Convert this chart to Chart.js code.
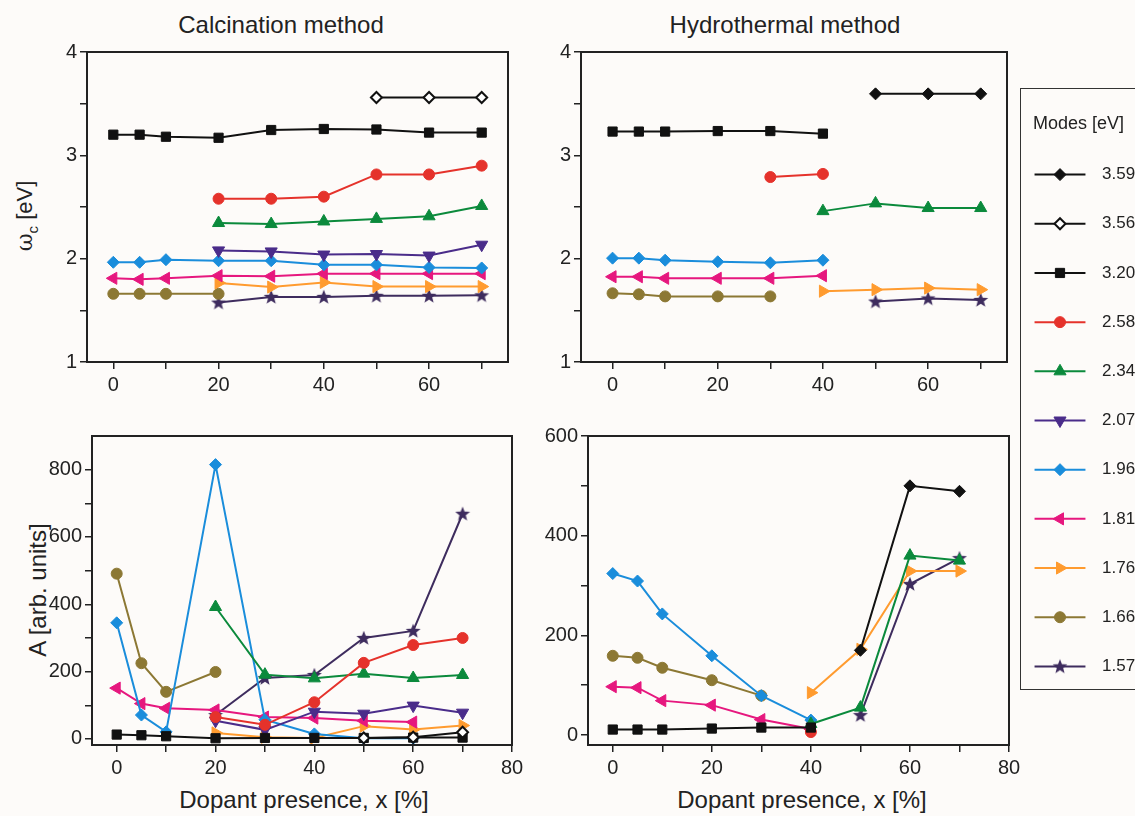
<!DOCTYPE html>
<html lang="en">
<head>
<meta charset="UTF-8">
<title>Modes vs dopant presence</title>
<script src="https://cdn.jsdelivr.net/npm/chart.js@4.4.0/dist/chart.umd.min.js"></script>
<style>
    html, body { margin: 0; padding: 0; }
    body {
        width: 1135px; height: 816px; position: relative; overflow: hidden;
        background: #fdfbf9; color: #222;
        font-family: "Liberation Sans", Arial, sans-serif;
    }
    .panel { position: absolute; }
    .title { position: absolute; font-size: 24px; line-height: 1; white-space: nowrap; transform: translateX(-50%); }
    .ylab { position: absolute; white-space: nowrap; line-height: 1; transform: translate(-50%, -50%) rotate(-90deg); }
    .legend-box {
        position: absolute; left: 1020px; top: 88px; width: 140px; height: 602px;
        border: 1.5px solid #333; box-sizing: border-box;
    }
    .legend-title { position: absolute; left: 1033px; top: 114px; font-size: 18px; line-height: 1; white-space: nowrap; }
</style>
</head>
<body>
    <div class="title" style="left:281px; top:13px;">Calcination method</div>
    <div class="title" style="left:785px; top:13px;">Hydrothermal method</div>

    <div class="ylab" style="left:27px; top:216px; font-size:22px;"><span style="font-family:'DejaVu Serif', serif;">ω</span><sub style="font-size:15px;">c</sub> [eV]</div>
    <div class="ylab" style="left:38px; top:590px; font-size:24px;">A [arb. units]</div>

    <div class="title" style="left:304px; top:788px;">Dopant presence, x [%]</div>
    <div class="title" style="left:802px; top:788px;">Dopant presence, x [%]</div>

    <div class="panel" id="wrapTL"><canvas id="chartTL" width="511" height="370"></canvas></div>
    <div class="panel" id="wrapTR"><canvas id="chartTR" width="516" height="370"></canvas></div>
    <div class="panel" id="wrapBL"><canvas id="chartBL" width="510" height="369"></canvas></div>
    <div class="panel" id="wrapBR"><canvas id="chartBR" width="511" height="369"></canvas></div>

    <div class="legend-box"></div>
    <div class="legend-title">Modes [eV]</div>
    <div class="panel" id="wrapLegend"><canvas id="chartLegend" width="110" height="601"></canvas></div>

<script>
    // modes (legend order), dopant levels
    const modes = ['3.59', '3.56', '3.20', '2.58', '2.34', '2.07', '1.96', '1.81', '1.76', '1.66', '1.57'];
    const dopant = [0, 5, 10, 20, 30, 40, 50, 60, 70];

    // rows follow the modes order, columns follow dopant
    const calcOmega = [
        [null, null, null, null, null, null, null, null, null],
        [null, null, null, null, null, null, 3.56, 3.56, 3.56],
        [3.20, 3.20, 3.18, 3.17, 3.245, 3.255, 3.25, 3.22, 3.22],
        [null, null, null, 2.58, 2.58, 2.60, 2.815, 2.815, 2.90],
        [null, null, null, 2.345, 2.335, 2.36, 2.385, 2.41, 2.51],
        [null, null, null, 2.08, 2.07, 2.04, 2.045, 2.03, 2.135],
        [1.965, 1.965, 1.99, 1.98, 1.98, 1.94, 1.94, 1.915, 1.91],
        [1.81, 1.80, 1.81, 1.835, 1.83, 1.855, 1.855, 1.855, 1.855],
        [null, null, null, 1.765, 1.725, 1.77, 1.73, 1.73, 1.73],
        [1.66, 1.66, 1.66, 1.66, null, null, null, null, null],
        [null, null, null, 1.575, 1.63, 1.63, 1.64, 1.64, 1.645]
    ];
    const hydroOmega = [
        [null, null, null, null, null, null, 3.595, 3.595, 3.595],
        [null, null, null, null, null, null, null, null, null],
        [3.23, 3.23, 3.23, 3.235, 3.235, 3.21, null, null, null],
        [null, null, null, null, 2.79, 2.82, null, null, null],
        [null, null, null, null, null, 2.46, 2.535, 2.49, 2.49],
        [null, null, null, null, null, null, null, null, null],
        [2.005, 2.005, 1.985, 1.97, 1.96, 1.985, null, null, null],
        [1.825, 1.825, 1.81, 1.81, 1.81, 1.835, null, null, null],
        [null, null, null, null, null, 1.685, 1.70, 1.715, 1.70],
        [1.665, 1.655, 1.635, 1.635, 1.635, null, null, null, null],
        [null, null, null, null, null, null, 1.585, 1.615, 1.60]
    ];
    const calcAmp = [
        [null, null, null, null, null, null, null, null, null],
        [null, null, null, null, null, null, 3, 5, 20],
        [13, 11, 8, 2, 3, 3, 3, 4, 4],
        [null, null, null, 65, 42, 109, 226, 279, 300],
        [null, null, null, 392, 191, 180, 194, 181, 190],
        [null, null, null, 54, 27, 81, 75, 99, 78],
        [345, 71, 21, 815, 57, 15, 2, 2, null],
        [151, 105, 91, 86, 65, 62, 54, 50, null],
        [null, null, null, 18, 5, 3, 38, 28, 40],
        [491, 225, 140, 199, null, null, null, null, null],
        [null, null, null, 71, 181, 190, 300, 321, 669]
    ];
    const hydroAmp = [
        [null, null, null, null, null, null, 170, 500, 489],
        [null, null, null, null, null, null, null, null, null],
        [11, 11, 11, 13, 15, 15, null, null, null],
        [null, null, null, null, null, 6, null, null, null],
        [null, null, null, null, null, 22, 55, 360, 350],
        [null, null, null, null, null, null, null, null, null],
        [324, 309, 243, 159, 79, 30, null, null, null],
        [97, 95, 69, 60, 31, 12, null, null, null],
        [null, null, null, null, null, 85, 172, 329, 329],
        [159, 155, 135, 110, 79, null, null, null, null],
        [null, null, null, null, null, null, 40, 303, 355]
    ];

    // tick values
    const omegaTicks = [1, 1.5, 2, 2.5, 3, 3.5, 4];
    const dopantTicksTop = [0, 10, 20, 30, 40, 50, 60, 70];
    const dopantTicksBottom = [0, 10, 20, 30, 40, 50, 60, 70, 80];
    const calcAmpTicks = [0, 100, 200, 300, 400, 500, 600, 700, 800];
    const hydroAmpTicks = [0, 100, 200, 300, 400, 500, 600];

    // marker look per mode
    const colors = ['#111111', '#111111', '#111111', '#e5322b', '#0b8a3c', '#4a2c8a', '#1a8ddb', '#e6177e', '#ff9b2f', '#8c7834', '#3e2c5e'];
    const rotations = [0, 0, 0, 0, 0, 180, 0, 270, 90, 0, 0];
    const radii = [6, 5.5, 6.5, 5.5, 7, 7, 6, 7, 7, 5.5, 7];

    // filled five point star for the 1.57 mode
    const star = document.createElement('canvas');
    star.width = 16; star.height = 16;
    (function () {
        const c = star.getContext('2d');
        c.beginPath();
        for (let k = 0; k < 10; k++) {
            const r = k % 2 === 0 ? 7.8 : 3.3;
            const a = -Math.PI / 2 + k * Math.PI / 5;
            c.lineTo(8 + r * Math.cos(a), 8.5 + r * Math.sin(a));
        }
        c.closePath();
        c.fillStyle = colors[10];
        c.fill();
    })();
    const shapes = ['rectRot', 'rectRot', 'rect', 'circle', 'triangle', 'triangle', 'rectRot', 'triangle', 'triangle', 'circle', star];

    Chart.defaults.font.family = "'Liberation Sans', Arial, sans-serif";
    Chart.defaults.color = '#222';

    function datasets(rows) {
        return modes.map((m, i) => ({
            label: m,
            data: dopant.map((x, j) => rows[i][j] == null ? null : { x: x, y: rows[i][j] }).filter(p => p),
            borderColor: colors[i],
            backgroundColor: i === 1 ? '#ffffff' : colors[i],
            pointStyle: shapes[i],
            rotation: rotations[i],
            pointRadius: radii[i],
            pointBorderWidth: i === 1 ? 2 : 1,
            borderWidth: 2,
            tension: 0
        }));
    }

    function axis(min, max, tickValues, labelStep, isY) {
        return {
            type: 'linear', min: min, max: max,
            position: isY ? 'left' : 'bottom',
            afterBuildTicks: s => { s.ticks = tickValues.map(v => ({ value: v })); },
            afterFit: s => { if (isY) s.width = 70; else s.height = 40; },
            ticks: {
                autoSkip: false, maxRotation: 0, padding: isY ? 3 : 4,
                font: { size: 20 }, color: '#222',
                callback: v => (Math.abs(v / labelStep - Math.round(v / labelStep)) < 1e-9 ? String(v) : '')
            },
            grid: { drawOnChartArea: false, drawTicks: true, tickLength: 7, color: '#222', lineWidth: 1.5 },
            border: { display: true, color: '#222', width: 2 }
        };
    }

    const framePlugin = {
        id: 'frame',
        afterDraw(chart) {
            const a = chart.chartArea, ctx = chart.ctx;
            ctx.save();
            ctx.strokeStyle = '#222';
            ctx.lineWidth = 2;
            ctx.strokeRect(a.left, a.top, a.right - a.left, a.bottom - a.top);
            ctx.restore();
        }
    };

    // area = target plot box on the page [left, top]
    function panel(id, rows, xAxis, yAxis, area) {
        const chart = new Chart(document.getElementById('chart' + id), {
            type: 'line',
            data: { datasets: datasets(rows) },
            options: {
                responsive: false, animation: false, events: [],
                layout: { padding: { top: 20, right: 20, left: 0, bottom: 0 } },
                plugins: { legend: { display: false }, tooltip: { enabled: false } },
                scales: { x: xAxis, y: yAxis }
            },
            plugins: [framePlugin]
        });
        const wrap = document.getElementById('wrap' + id);
        wrap.style.left = (area[0] - chart.chartArea.left) + 'px';
        wrap.style.top = (area[1] - chart.chartArea.top) + 'px';
        return chart;
    }

    panel('TL', calcOmega, axis(-5, 75, dopantTicksTop, 20, false), axis(1, 4, omegaTicks, 1, true), [87, 52]);
    panel('TR', hydroOmega, axis(-6, 75, dopantTicksTop, 20, false), axis(1, 4, omegaTicks, 1, true), [581, 52]);
    panel('BL', calcAmp, axis(-5, 80, dopantTicksBottom, 20, false), axis(-18, 900, calcAmpTicks, 200, true), [92, 436]);
    panel('BR', hydroAmp, axis(-5, 80, dopantTicksBottom, 20, false), axis(-20, 600, hydroAmpTicks, 200, true), [588, 436]);

    // legend: one short line per mode with its marker in the middle
    const legend = new Chart(document.getElementById('chartLegend'), {
        type: 'line',
        data: {
            datasets: modes.map((m, i) => ({
                label: m,
                data: [{ x: 0, y: i }, { x: 1, y: i }, { x: 2, y: i }],
                borderColor: colors[i],
                backgroundColor: i === 1 ? '#ffffff' : colors[i],
                pointStyle: shapes[i],
                rotation: rotations[i],
                pointRadius: [0, radii[i], 0],
                pointBorderWidth: i === 1 ? 2 : 1,
                borderWidth: 2
            }))
        },
        options: {
            responsive: false, animation: false, events: [],
            layout: { padding: { top: 30, bottom: 30, left: 0, right: 0 } },
            plugins: { legend: { display: false }, tooltip: { enabled: false } },
            scales: {
                x: { type: 'linear', min: -0.1, max: 2.1, display: false },
                y: {
                    type: 'linear', min: -0.5, max: 10.5, reverse: true, position: 'right',
                    afterBuildTicks: s => { s.ticks = modes.map((m, i) => ({ value: i })); },
                    afterFit: s => { s.width = 54; },
                    ticks: { padding: 6, font: { size: 17 }, color: '#222', callback: v => modes[v] },
                    grid: { display: false },
                    border: { display: false }
                }
            }
        }
    });
    const lw = document.getElementById('wrapLegend');
    lw.style.left = (1032 - legend.chartArea.left) + 'px';
    lw.style.top = (150 - legend.chartArea.top) + 'px';
</script>
</body>
</html>
